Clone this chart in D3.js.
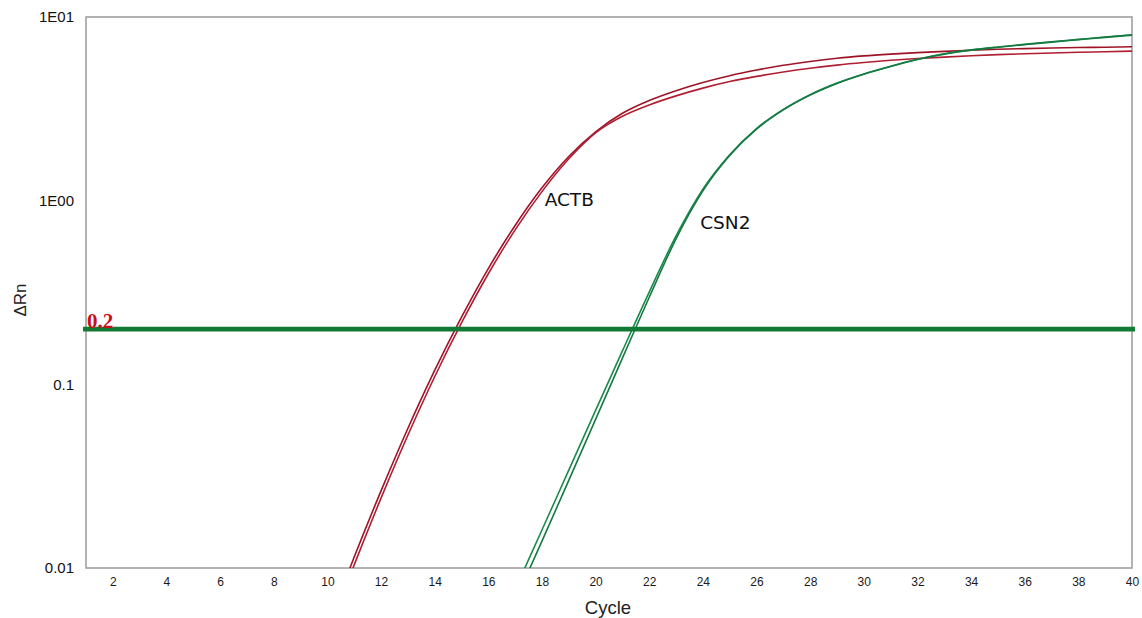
<!DOCTYPE html>
<html>
<head>
<meta charset="utf-8">
<script src="https://cdn.jsdelivr.net/npm/d3@7/dist/d3.min.js"></script>
<style>
  html, body { margin: 0; padding: 0; background: #fff; }
  svg { display: block; font-family: Arial, "Liberation Sans", sans-serif; }
</style>
</head>
<body>
<svg id="chart" width="1142" height="618"></svg>
<script>
// ---- data ----
const actbCycles = [10,11,12,13,14,15,16,17,18,19,20,21,22,23,24,25,26,27,28,29,30,31,32,33,34,35,36,37,38,39,40];
const actbRep1 = [0.0048,0.01148,0.0263,0.0575,0.119,0.232,0.427,0.733,1.175,1.74,2.37,2.99,3.51,3.97,4.40,4.79,5.14,5.46,5.73,5.96,6.14,6.28,6.40,6.50,6.59,6.67,6.73,6.78,6.82,6.85,6.89];
const actbRep2 = [0.0043,0.0104,0.024,0.0528,0.110,0.216,0.400,0.693,1.12,1.69,2.34,2.88,3.32,3.72,4.10,4.45,4.75,5.02,5.26,5.47,5.65,5.81,5.94,6.05,6.15,6.24,6.31,6.37,6.43,6.47,6.52];
const csn2Cycles = [16,17,18,19,20,21,22,23,24,25,26,27,28,29,30,31,32,33,34,35,36,37,38,39,40];
const csn2Rep1 = [0.0036,0.00764,0.0161,0.0341,0.0721,0.152,0.318,0.643,1.156,1.78,2.47,3.14,3.78,4.37,4.90,5.40,5.89,6.31,6.62,6.87,7.10,7.33,7.55,7.78,8.0];
const csn2Rep2 = [0.0031,0.0066,0.0140,0.0300,0.0645,0.139,0.298,0.62,1.13,1.76,2.45,3.12,3.76,4.35,4.88,5.38,5.87,6.28,6.59,6.84,7.07,7.30,7.52,7.75,7.97];
const xTicks = [2,4,6,8,10,12,14,16,18,20,22,24,26,28,30,32,34,36,38,40];
const yTicks = [0.01, 0.1, 1, 10];
const yTickLabels = ["0.01", "0.1", "1E00", "1E01"];
const threshold = 0.2;
const thresholdLabel = "0.2";
const geneLabels = [{name: "ACTB", cycle: 18.1, value: 1.0}, {name: "CSN2", cycle: 23.9, value: 0.75}];

// ---- layout ----
const svg = d3.select("#chart");
const L = 86, R = 1132, T = 17, B = 568;
const x = d3.scaleLinear().domain([1, 40]).range([L, R]);
const y = d3.scaleLog().domain([0.01, 10]).range([B, T]);

svg.append("defs").append("clipPath").attr("id", "plotclip")
  .append("rect").attr("x", L).attr("y", T).attr("width", R - L).attr("height", B - T);

// frame
svg.append("rect").attr("x", L).attr("y", T).attr("width", R - L).attr("height", B - T)
  .attr("fill", "none").attr("stroke", "#a0a0a0").attr("stroke-width", 1.6);

// x axis labels
const xAxis = d3.axisBottom(x).tickValues(xTicks).tickSize(0).tickPadding(9);
const gx = svg.append("g").attr("transform", `translate(0,${B})`).call(xAxis);
gx.select(".domain").remove();
gx.selectAll("text").attr("font-size", 12).attr("fill", "#1a1a1a").attr("font-family", "Arial, 'Liberation Sans', sans-serif");

// y axis labels
const yAxis = d3.axisLeft(y).tickValues(yTicks).tickFormat((d, i) => yTickLabels[i]).tickSize(0).tickPadding(12);
const gy = svg.append("g").attr("transform", `translate(${L},0)`).call(yAxis);
gy.select(".domain").remove();
gy.selectAll("text").attr("font-size", 15).attr("fill", "#111").attr("font-family", "Arial, 'Liberation Sans', sans-serif");

// axis titles
svg.append("text").attr("x", 608).attr("y", 614).attr("text-anchor", "middle")
  .attr("font-size", 18.5).attr("fill", "#222").text("Cycle");
svg.append("text").attr("transform", `translate(26,300) rotate(-90)`)
  .attr("text-anchor", "middle").attr("font-size", 17).attr("fill", "#222").text("ΔRn");

// curves
const plot = svg.append("g").attr("clip-path", "url(#plotclip)");
const line = d3.line().x(d => x(d[0])).y(d => y(d[1])).curve(d3.curveMonotoneX);
const series = [
  {cycles: actbCycles, vals: actbRep1, color: "#9e1426"},
  {cycles: actbCycles, vals: actbRep2, color: "#b01e32"},
  {cycles: csn2Cycles, vals: csn2Rep1, color: "#1a8a4c"},
  {cycles: csn2Cycles, vals: csn2Rep2, color: "#157a42"}
];
series.forEach(s => {
  plot.append("path").datum(s.cycles.map((c, i) => [c, s.vals[i]]))
    .attr("d", line).attr("fill", "none").attr("stroke", s.color).attr("stroke-width", 1.6);
});

// threshold
svg.append("line").attr("x1", L - 3).attr("x2", R + 3).attr("y1", y(threshold)).attr("y2", y(threshold))
  .attr("stroke", "#137a35").attr("stroke-width", 4.8);
svg.append("text").attr("x", L + 1).attr("y", y(threshold) - 1)
  .attr("font-family", "'Liberation Serif', 'Times New Roman', serif").attr("font-weight", "bold")
  .attr("font-size", 21).attr("fill", "#c8101a").text(thresholdLabel);

// gene labels
geneLabels.forEach(g => {
  svg.append("text").attr("x", x(g.cycle)).attr("y", y(g.value) + 5)
    .attr("font-family", "'DejaVu Sans', Verdana, sans-serif")
    .attr("font-size", 18.5).attr("fill", "#111").text(g.name);
});
</script>
</body>
</html>
